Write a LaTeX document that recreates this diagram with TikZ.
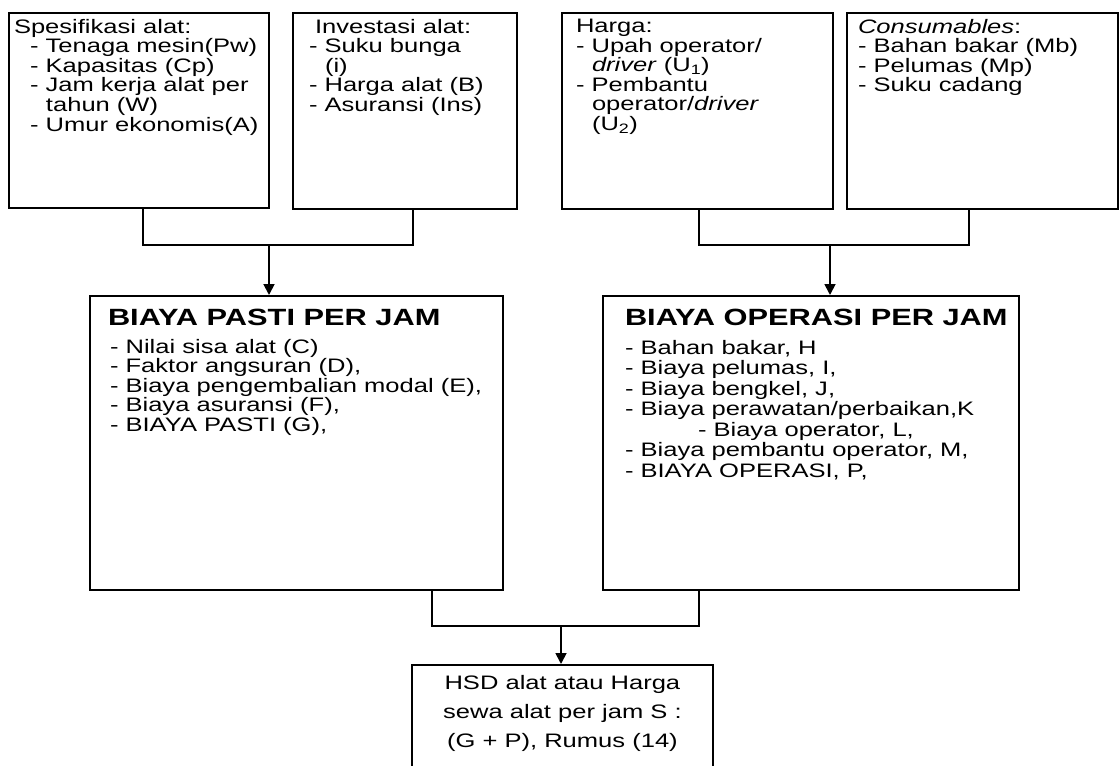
\documentclass[tikz,border=0pt]{standalone}
\usepackage{fontspec}
\setmainfont[FakeStretch=1.31]{Liberation Sans}
\usetikzlibrary{positioning, arrows.meta}

\begin{document}
\begin{tikzpicture}[x=1pt, y=-1pt,
     kotak/.style = {rectangle, draw, line width=1.8pt, anchor=north west,
                     inner sep=0pt},
       isi/.style = {align=left, inner sep=0pt, outer sep=0pt,
                     font=\fontsize{19.5}{19.6}\selectfont},
     judul/.style = {isi, font=\fontsize{23.5}{24}\selectfont\bfseries},
     garis/.style = {line width=1.8pt},
     panah/.style = {garis, -{Triangle[width=11pt,length=11pt]}}
                        ]
\useasboundingbox (0,0) rectangle (1120,766);
\clip (0,0) rectangle (1120,766);
% kotak atas
\node (spek) [kotak, minimum width=260pt, minimum height=195pt] at (8,12) {};
\node (invest) [kotak, minimum width=224pt, minimum height=196pt] at (292,12) {};
\node (harga) [kotak, minimum width=271pt, minimum height=196pt] at (561,12) {};
\node (cons) [kotak, minimum width=271pt, minimum height=196pt] at (846,12) {};
\node (spek-isi) [isi, below right=7pt and 6pt of spek.north west]
  {Spesifikasi alat:\\
   \hspace*{16pt}- Tenaga mesin(Pw)\\
   \hspace*{16pt}- Kapasitas (Cp)\\
   \hspace*{16pt}- Jam kerja alat per\\
   \hspace*{32pt}tahun (W)\\
   \hspace*{16pt}- Umur ekonomis(A)};
\node (invest-isi) [isi, below right=7pt and 17pt of invest.north west]
  {\hspace*{6pt}Investasi alat:\\
   - Suku bunga\\
   \hspace*{16pt}(i)\\
   - Harga alat (B)\\
   - Asuransi (Ins)};
\node (harga-isi) [isi, below right=7pt and 15pt of harga.north west]
  {Harga:\\
   - Upah operator/\\
   \hspace*{16pt}\textit{driver} (U\textsubscript{1})\\
   - Pembantu\\
   \hspace*{16pt}operator/\textit{driver}\\
   \hspace*{16pt}(U\textsubscript{2})};
\node (cons-isi) [isi, below right=7pt and 12pt of cons.north west]
  {\textit{Consumables}:\\
   - Bahan bakar (Mb)\\
   - Pelumas (Mp)\\
   - Suku cadang};
% kotak tengah
\node (pasti) [kotak, minimum width=413pt, minimum height=294pt] at (89,295) {};
\node (operasi) [kotak, minimum width=416pt, minimum height=294pt] at (602,295) {};
\node (pasti-judul) [judul, below right=14pt and 19pt of pasti.north west]
  {BIAYA PASTI PER JAM};
\node (pasti-isi) [isi, below right=44pt and 21pt of pasti.north west]
  {- Nilai sisa alat (C)\\
   - Faktor angsuran (D),\\
   - Biaya pengembalian modal (E),\\
   - Biaya asuransi (F),\\
   - BIAYA PASTI (G),};
\node (operasi-judul) [judul, below right=14pt and 23pt of operasi.north west]
  {BIAYA OPERASI PER JAM};
\node (operasi-isi) [isi, font=\fontsize{19.5}{20.5}\selectfont,
                     below right=45pt and 23pt of operasi.north west]
  {- Bahan bakar, H\\
   - Biaya pelumas, I,\\
   - Biaya bengkel, J,\\
   - Biaya perawatan/perbaikan,K\\
   \hspace*{73pt}- Biaya operator, L,\\
   - Biaya pembantu operator, M,\\
   - BIAYA OPERASI, P,};
% kotak bawah
\node (hsd) [kotak, minimum width=301pt, minimum height=112pt] at (411,664) {};
\node (hsd-isi) [isi, align=center, font=\fontsize{19.5}{29}\selectfont,
                 below=11pt of hsd.north]
  {HSD alat atau Harga\\ sewa alat per jam S :\\ (G + P), Rumus (14)};
% penghubung
\coordinate (j1) at (143,245);
\coordinate (j2) at (413,245);
\coordinate (m1) at (269,245);
\coordinate (j3) at (699,245);
\coordinate (j4) at (969,245);
\coordinate (m2) at (830,245);
\coordinate (j5) at (432,626);
\coordinate (j6) at (699,626);
\coordinate (m3) at (561,626);
\draw[garis] (spek.south -| j1) |- (j2) -- (invest.south -| j2);
\draw[panah] (m1) -- (pasti.north -| m1);
\draw[garis] (harga.south -| j3) |- (j4) -- (cons.south -| j4);
\draw[panah] (m2) -- (operasi.north -| m2);
\draw[garis] (pasti.south -| j5) |- (j6) -- (operasi.south -| j6);
\draw[panah] (m3) -- (hsd.north -| m3);
\end{tikzpicture}
\end{document}
